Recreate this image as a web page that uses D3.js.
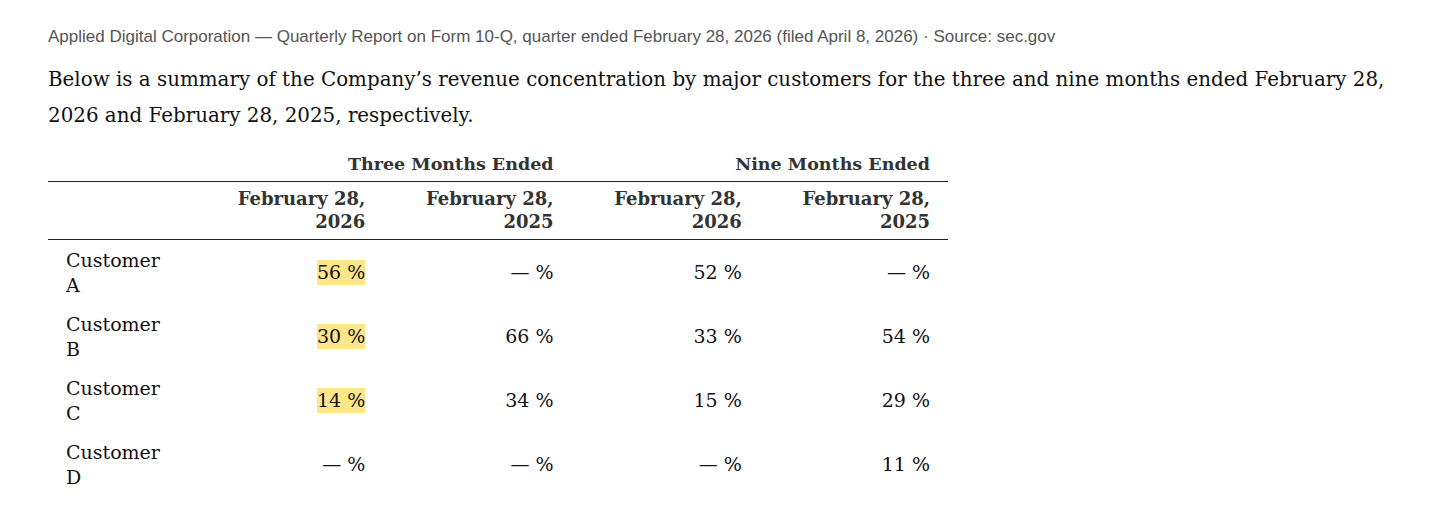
<!DOCTYPE html>
<html>
<head>
<meta charset="utf-8">
<script src="https://cdn.jsdelivr.net/npm/d3@7"></script>
<style>
  body { margin: 0; background: #fff; }
  svg text { font-family: "DejaVu Serif", serif; }
</style>
</head>
<body>
<div id="chart"></div>
<script>
// table content
let sourceLine = 'Applied Digital Corporation \u2014 Quarterly Report on Form 10-Q, quarter ended February 28, 2026 (filed April 8, 2026) \u00b7 Source: sec.gov'
let introLines = [
  'Below is a summary of the Company\u2019s revenue concentration by major customers for the three and nine months ended February 28,',
  '2026 and February 28, 2025, respectively.'
]
let groups = ['Three Months Ended', 'Nine Months Ended']
let columns = ['3m-2026', '3m-2025', '9m-2026', '9m-2025']
let columnLines = [['February 28,', '2026'], ['February 28,', '2025'], ['February 28,', '2026'], ['February 28,', '2025']]
let customers = ['A', 'B', 'C', 'D']
// null = dash (no revenue share reported)
let threeMonths2026 = [56, 30, 14, null]
let threeMonths2025 = [null, 66, 34, null]
let nineMonths2026 = [52, 33, 15, null]
let nineMonths2025 = [null, 54, 29, 11]
let highlighted = ['3m-2026']

let width = 1440
let height = 520

let svg = d3
  .select('#chart')
  .append('svg')
  .attr('width', width)
  .attr('height', height)

// source line + intro paragraph
svg
  .append('text')
  .attr('x', 48)
  .attr('y', 42)
  .attr('fill', '#555')
  .style('font-family', '"Liberation Sans", Arial, sans-serif')
  .style('font-size', '17px')
  .text(sourceLine)

let intro = svg
  .selectAll('.intro')
  .data(introLines)
  .enter()
  .append('text')
  .attr('class', 'intro')
  .attr('x', 48)
  .attr('y', (d, i) => 86 + i * 36)
  .attr('fill', '#111')
  .style('font-size', '20px')
  .text(d => d)

// the paragraph wraps at the page width (first line ends near x = 1385)
let firstLen = intro.node().getComputedTextLength()
intro.style('font-size', (20 * 1337 / firstLen) + 'px')

// table geometry
let tableLeft = 48
let tableRight = 948
let labelWidth = 147
let pad = 18

let x = d3
  .scaleBand()
  .domain(columns)
  .range([tableLeft + labelWidth, tableRight])

let y = d3
  .scaleBand()
  .domain(customers)
  .range([240, 496])

let values = customers.map((c, i) => ({
  customer: c,
  cells: [threeMonths2026[i], threeMonths2025[i], nineMonths2026[i], nineMonths2025[i]].map((v, j) => ({
    col: columns[j],
    value: v
  }))
}))

// group headers
svg
  .selectAll('.group')
  .data(groups)
  .enter()
  .append('text')
  .attr('class', 'group')
  .attr('x', (d, i) => x(columns[i * 2 + 1]) + x.bandwidth() - pad)
  .attr('y', 170)
  .attr('text-anchor', 'end')
  .attr('fill', '#333')
  .style('font-weight', 'bold')
  .style('font-size', '17.5px')
  .text(d => d)

svg
  .append('line')
  .attr('x1', tableLeft)
  .attr('x2', tableRight)
  .attr('y1', 181.5)
  .attr('y2', 181.5)
  .attr('stroke', '#222')

// column headers (two lines each)
let colHead = svg
  .selectAll('.colhead')
  .data(columns)
  .enter()
  .append('text')
  .attr('class', 'colhead')
  .attr('text-anchor', 'end')
  .attr('fill', '#333')
  .style('font-weight', 'bold')
  .style('font-size', '18px')

colHead
  .selectAll('tspan')
  .data((d, i) => columnLines[i].map(t => ({ col: d, t: t })))
  .enter()
  .append('tspan')
  .attr('x', d => x(d.col) + x.bandwidth() - pad)
  .attr('y', (d, i) => 205 + i * 23)
  .text(d => d.t)

svg
  .append('line')
  .attr('x1', tableLeft)
  .attr('x2', tableRight)
  .attr('y1', 239.5)
  .attr('y2', 239.5)
  .attr('stroke', '#222')

// rows
let rows = svg
  .selectAll('.row')
  .data(values)
  .enter()
  .append('g')
  .attr('class', 'row')
  .attr('transform', d => 'translate(0,' + y(d.customer) + ')')

let label = rows
  .append('text')
  .attr('fill', '#111')
  .style('font-size', '19px')

label
  .append('tspan')
  .attr('x', tableLeft + pad)
  .attr('y', 27)
  .text('Customer')

label
  .append('tspan')
  .attr('x', tableLeft + pad)
  .attr('y', 52)
  .text(d => d.customer)

let cell = rows
  .selectAll('.cell')
  .data(d => d.cells)
  .enter()
  .append('g')
  .attr('class', 'cell')

cell
  .append('text')
  .attr('x', d => x(d.col) + x.bandwidth() - pad)
  .attr('y', 39)
  .attr('text-anchor', 'end')
  .attr('fill', '#111')
  .style('font-size', '19px')
  .text(d => (d.value === null ? '\u2014 %' : d.value + ' %'))

// yellow highlight behind the reported values of the highlighted column
cell
  .filter(d => highlighted.indexOf(d.col) >= 0 && d.value !== null)
  .each(function () {
    let t = d3.select(this).select('text')
    let b = t.node().getBBox()
    d3.select(this)
      .insert('rect', 'text')
      .attr('x', b.x)
      .attr('y', 20)
      .attr('width', b.width)
      .attr('height', 25)
      .attr('fill', '#fde68a')
  })
</script>
</body>
</html>
